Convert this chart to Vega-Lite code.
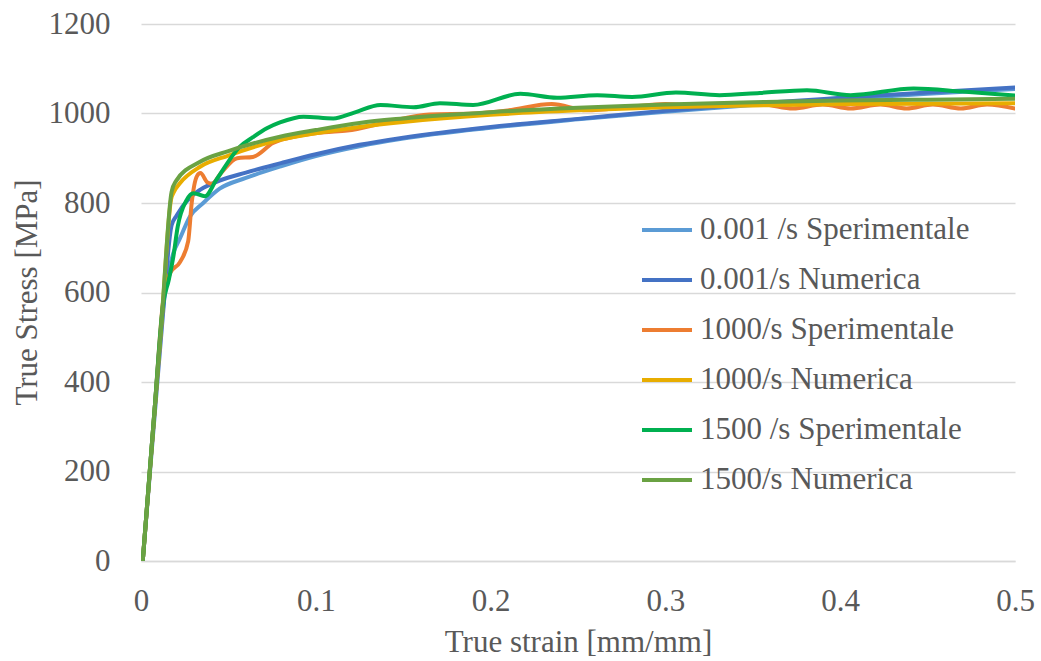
{
  "$schema": "https://vega.github.io/schema/vega-lite/v6.json",
  "width": 874,
  "height": 537,
  "autosize": {"type": "none"},
  "padding": {"left": 141, "top": 24, "right": 26, "bottom": 100},
  "background": "white",
  "config": {
    "font": "Liberation Serif",
    "view": {"stroke": null},
    "axis": {"labelFont": "Liberation Serif", "titleFont": "Liberation Serif", "labelColor": "#595959", "titleColor": "#595959", "labelFontSize": 31, "titleFontSize": 31, "titleFontWeight": "normal"},
    "legend": {"labelFont": "Liberation Serif", "labelColor": "#595959", "labelFontSize": 31}
  },
  "data": {"values": [
    {"s": "0.001 /s Sperimentale", "x": 0.001, "y": 0},
    {"s": "0.001 /s Sperimentale", "x": 0.004, "y": 150},
    {"s": "0.001 /s Sperimentale", "x": 0.008, "y": 350},
    {"s": "0.001 /s Sperimentale", "x": 0.012, "y": 545},
    {"s": "0.001 /s Sperimentale", "x": 0.015, "y": 630},
    {"s": "0.001 /s Sperimentale", "x": 0.0185, "y": 688},
    {"s": "0.001 /s Sperimentale", "x": 0.0222, "y": 720},
    {"s": "0.001 /s Sperimentale", "x": 0.028, "y": 770},
    {"s": "0.001 /s Sperimentale", "x": 0.0356, "y": 800},
    {"s": "0.001 /s Sperimentale", "x": 0.045, "y": 832},
    {"s": "0.001 /s Sperimentale", "x": 0.06, "y": 856},
    {"s": "0.001 /s Sperimentale", "x": 0.08, "y": 882},
    {"s": "0.001 /s Sperimentale", "x": 0.1, "y": 905},
    {"s": "0.001 /s Sperimentale", "x": 0.125, "y": 927},
    {"s": "0.001 /s Sperimentale", "x": 0.15, "y": 944},
    {"s": "0.001 /s Sperimentale", "x": 0.2, "y": 968},
    {"s": "0.001 /s Sperimentale", "x": 0.25, "y": 987},
    {"s": "0.001 /s Sperimentale", "x": 0.3, "y": 1004},
    {"s": "0.001 /s Sperimentale", "x": 0.35, "y": 1019},
    {"s": "0.001 /s Sperimentale", "x": 0.4, "y": 1032},
    {"s": "0.001 /s Sperimentale", "x": 0.45, "y": 1044},
    {"s": "0.001 /s Sperimentale", "x": 0.5, "y": 1055},

    {"s": "0.001/s Numerica", "x": 0.001, "y": 0},
    {"s": "0.001/s Numerica", "x": 0.004, "y": 145},
    {"s": "0.001/s Numerica", "x": 0.008, "y": 335},
    {"s": "0.001/s Numerica", "x": 0.012, "y": 525},
    {"s": "0.001/s Numerica", "x": 0.0175, "y": 750},
    {"s": "0.001/s Numerica", "x": 0.0204, "y": 772},
    {"s": "0.001/s Numerica", "x": 0.028, "y": 812},
    {"s": "0.001/s Numerica", "x": 0.034, "y": 830},
    {"s": "0.001/s Numerica", "x": 0.045, "y": 850},
    {"s": "0.001/s Numerica", "x": 0.06, "y": 868},
    {"s": "0.001/s Numerica", "x": 0.08, "y": 889},
    {"s": "0.001/s Numerica", "x": 0.1, "y": 909},
    {"s": "0.001/s Numerica", "x": 0.125, "y": 930},
    {"s": "0.001/s Numerica", "x": 0.15, "y": 946},
    {"s": "0.001/s Numerica", "x": 0.2, "y": 970},
    {"s": "0.001/s Numerica", "x": 0.25, "y": 988},
    {"s": "0.001/s Numerica", "x": 0.3, "y": 1006},
    {"s": "0.001/s Numerica", "x": 0.35, "y": 1022},
    {"s": "0.001/s Numerica", "x": 0.4, "y": 1035},
    {"s": "0.001/s Numerica", "x": 0.45, "y": 1047},
    {"s": "0.001/s Numerica", "x": 0.5, "y": 1058},

    {"s": "1000/s Sperimentale", "x": 0.001, "y": 0},
    {"s": "1000/s Sperimentale", "x": 0.004, "y": 150},
    {"s": "1000/s Sperimentale", "x": 0.008, "y": 350},
    {"s": "1000/s Sperimentale", "x": 0.0125, "y": 575},
    {"s": "1000/s Sperimentale", "x": 0.0166, "y": 643},
    {"s": "1000/s Sperimentale", "x": 0.0223, "y": 668},
    {"s": "1000/s Sperimentale", "x": 0.027, "y": 715},
    {"s": "1000/s Sperimentale", "x": 0.029, "y": 800},
    {"s": "1000/s Sperimentale", "x": 0.032, "y": 860},
    {"s": "1000/s Sperimentale", "x": 0.034, "y": 867},
    {"s": "1000/s Sperimentale", "x": 0.038, "y": 846},
    {"s": "1000/s Sperimentale", "x": 0.0405, "y": 843},
    {"s": "1000/s Sperimentale", "x": 0.046, "y": 868},
    {"s": "1000/s Sperimentale", "x": 0.055, "y": 900},
    {"s": "1000/s Sperimentale", "x": 0.064, "y": 903},
    {"s": "1000/s Sperimentale", "x": 0.0755, "y": 934},
    {"s": "1000/s Sperimentale", "x": 0.09, "y": 950},
    {"s": "1000/s Sperimentale", "x": 0.105, "y": 958},
    {"s": "1000/s Sperimentale", "x": 0.118, "y": 962},
    {"s": "1000/s Sperimentale", "x": 0.14, "y": 980},
    {"s": "1000/s Sperimentale", "x": 0.165, "y": 998},
    {"s": "1000/s Sperimentale", "x": 0.19, "y": 1000},
    {"s": "1000/s Sperimentale", "x": 0.21, "y": 1007},
    {"s": "1000/s Sperimentale", "x": 0.235, "y": 1021},
    {"s": "1000/s Sperimentale", "x": 0.255, "y": 1007},
    {"s": "1000/s Sperimentale", "x": 0.28, "y": 1015},
    {"s": "1000/s Sperimentale", "x": 0.3, "y": 1021},
    {"s": "1000/s Sperimentale", "x": 0.32, "y": 1017},
    {"s": "1000/s Sperimentale", "x": 0.34, "y": 1021},
    {"s": "1000/s Sperimentale", "x": 0.356, "y": 1020},
    {"s": "1000/s Sperimentale", "x": 0.373, "y": 1011},
    {"s": "1000/s Sperimentale", "x": 0.39, "y": 1020},
    {"s": "1000/s Sperimentale", "x": 0.406, "y": 1011},
    {"s": "1000/s Sperimentale", "x": 0.423, "y": 1020},
    {"s": "1000/s Sperimentale", "x": 0.438, "y": 1011},
    {"s": "1000/s Sperimentale", "x": 0.453, "y": 1020},
    {"s": "1000/s Sperimentale", "x": 0.469, "y": 1011},
    {"s": "1000/s Sperimentale", "x": 0.484, "y": 1020},
    {"s": "1000/s Sperimentale", "x": 0.5, "y": 1011},

    {"s": "1000/s Numerica", "x": 0.001, "y": 0},
    {"s": "1000/s Numerica", "x": 0.004, "y": 148},
    {"s": "1000/s Numerica", "x": 0.008, "y": 346},
    {"s": "1000/s Numerica", "x": 0.012, "y": 545},
    {"s": "1000/s Numerica", "x": 0.0172, "y": 808},
    {"s": "1000/s Numerica", "x": 0.019, "y": 826},
    {"s": "1000/s Numerica", "x": 0.022, "y": 843},
    {"s": "1000/s Numerica", "x": 0.0338, "y": 881},
    {"s": "1000/s Numerica", "x": 0.05, "y": 906},
    {"s": "1000/s Numerica", "x": 0.0795, "y": 941},
    {"s": "1000/s Numerica", "x": 0.1, "y": 956},
    {"s": "1000/s Numerica", "x": 0.125, "y": 970},
    {"s": "1000/s Numerica", "x": 0.15, "y": 981},
    {"s": "1000/s Numerica", "x": 0.2, "y": 997},
    {"s": "1000/s Numerica", "x": 0.25, "y": 1007},
    {"s": "1000/s Numerica", "x": 0.3, "y": 1014},
    {"s": "1000/s Numerica", "x": 0.35, "y": 1018},
    {"s": "1000/s Numerica", "x": 0.4, "y": 1021},
    {"s": "1000/s Numerica", "x": 0.45, "y": 1022},
    {"s": "1000/s Numerica", "x": 0.5, "y": 1023},

    {"s": "1500 /s Sperimentale", "x": 0.001, "y": 0},
    {"s": "1500 /s Sperimentale", "x": 0.004, "y": 150},
    {"s": "1500 /s Sperimentale", "x": 0.008, "y": 350},
    {"s": "1500 /s Sperimentale", "x": 0.0125, "y": 570},
    {"s": "1500 /s Sperimentale", "x": 0.016, "y": 630},
    {"s": "1500 /s Sperimentale", "x": 0.0185, "y": 680},
    {"s": "1500 /s Sperimentale", "x": 0.021, "y": 747},
    {"s": "1500 /s Sperimentale", "x": 0.026, "y": 806},
    {"s": "1500 /s Sperimentale", "x": 0.03, "y": 822},
    {"s": "1500 /s Sperimentale", "x": 0.0366, "y": 815},
    {"s": "1500 /s Sperimentale", "x": 0.043, "y": 851},
    {"s": "1500 /s Sperimentale", "x": 0.0566, "y": 926},
    {"s": "1500 /s Sperimentale", "x": 0.064, "y": 947},
    {"s": "1500 /s Sperimentale", "x": 0.072, "y": 967},
    {"s": "1500 /s Sperimentale", "x": 0.0795, "y": 980},
    {"s": "1500 /s Sperimentale", "x": 0.093, "y": 993},
    {"s": "1500 /s Sperimentale", "x": 0.11, "y": 989},
    {"s": "1500 /s Sperimentale", "x": 0.122, "y": 1002},
    {"s": "1500 /s Sperimentale", "x": 0.137, "y": 1019},
    {"s": "1500 /s Sperimentale", "x": 0.156, "y": 1014},
    {"s": "1500 /s Sperimentale", "x": 0.171, "y": 1023},
    {"s": "1500 /s Sperimentale", "x": 0.19, "y": 1019},
    {"s": "1500 /s Sperimentale", "x": 0.217, "y": 1044},
    {"s": "1500 /s Sperimentale", "x": 0.238, "y": 1035},
    {"s": "1500 /s Sperimentale", "x": 0.261, "y": 1041},
    {"s": "1500 /s Sperimentale", "x": 0.281, "y": 1037},
    {"s": "1500 /s Sperimentale", "x": 0.306, "y": 1047},
    {"s": "1500 /s Sperimentale", "x": 0.331, "y": 1041},
    {"s": "1500 /s Sperimentale", "x": 0.354, "y": 1046},
    {"s": "1500 /s Sperimentale", "x": 0.381, "y": 1052},
    {"s": "1500 /s Sperimentale", "x": 0.406, "y": 1041},
    {"s": "1500 /s Sperimentale", "x": 0.442, "y": 1056},
    {"s": "1500 /s Sperimentale", "x": 0.47, "y": 1049},
    {"s": "1500 /s Sperimentale", "x": 0.5, "y": 1040},

    {"s": "1500/s Numerica", "x": 0.001, "y": 0},
    {"s": "1500/s Numerica", "x": 0.004, "y": 150},
    {"s": "1500/s Numerica", "x": 0.008, "y": 350},
    {"s": "1500/s Numerica", "x": 0.012, "y": 550},
    {"s": "1500/s Numerica", "x": 0.0175, "y": 825},
    {"s": "1500/s Numerica", "x": 0.02, "y": 849},
    {"s": "1500/s Numerica", "x": 0.0338, "y": 892},
    {"s": "1500/s Numerica", "x": 0.05, "y": 916},
    {"s": "1500/s Numerica", "x": 0.0795, "y": 948},
    {"s": "1500/s Numerica", "x": 0.1, "y": 963},
    {"s": "1500/s Numerica", "x": 0.125, "y": 979},
    {"s": "1500/s Numerica", "x": 0.15, "y": 989},
    {"s": "1500/s Numerica", "x": 0.2, "y": 1003},
    {"s": "1500/s Numerica", "x": 0.25, "y": 1013},
    {"s": "1500/s Numerica", "x": 0.3, "y": 1020},
    {"s": "1500/s Numerica", "x": 0.35, "y": 1025},
    {"s": "1500/s Numerica", "x": 0.4, "y": 1029},
    {"s": "1500/s Numerica", "x": 0.45, "y": 1031},
    {"s": "1500/s Numerica", "x": 0.5, "y": 1033}
  ]},
  "mark": {"type": "line", "strokeWidth": 4, "interpolate": "monotone", "strokeJoin": "round", "strokeCap": "round", "clip": true},
  "encoding": {
    "x": {
      "field": "x", "type": "quantitative",
      "scale": {"domain": [0, 0.5], "nice": false, "zero": false},
      "axis": {
        "title": "True strain [mm/mm]",
        "values": [0, 0.1, 0.2, 0.3, 0.4, 0.5],
        "format": "~f",
        "grid": false,
        "ticks": false, "tickSize": 0,
        "domain": true, "domainColor": "#D9D9D9", "domainWidth": 1.5,
        "labelPadding": 25,
        "labelFlush": false, "labelOverlap": false, "labelBound": false,
        "titleBaseline": "alphabetic", "titleY": 90, "titleX": 437
      }
    },
    "y": {
      "field": "y", "type": "quantitative",
      "scale": {"domain": [0, 1200], "nice": false},
      "axis": {
        "title": "True Stress [MPa]",
        "values": [0, 200, 400, 600, 800, 1000, 1200],
        "format": "d",
        "grid": true, "gridColor": "#D9D9D9", "gridWidth": 1.5,
        "ticks": false, "tickSize": 0,
        "domain": false,
        "labelPadding": 31,
        "labelFlush": false, "labelOverlap": false, "labelBound": false,
        "titleAngle": -90, "titleBaseline": "alphabetic", "titleX": -105, "titleY": 268
      }
    },
    "color": {
      "field": "s", "type": "nominal",
      "scale": {
        "domain": ["0.001 /s Sperimentale", "0.001/s Numerica", "1000/s Sperimentale", "1000/s Numerica", "1500 /s Sperimentale", "1500/s Numerica"],
        "range": ["#5B9BD5", "#4472C4", "#ED7D31", "#E8AD00", "#00B050", "#6AA243"]
      },
      "legend": {
        "title": null,
        "orient": "none",
        "legendX": 499,
        "legendY": 179,
        "symbolType": "stroke",
        "symbolSize": 2500,
        "symbolStrokeWidth": 4,
        "labelOffset": 6,
        "rowPadding": 8,
        "padding": 0,
        "labelLimit": 400
      }
    }
  }
}
